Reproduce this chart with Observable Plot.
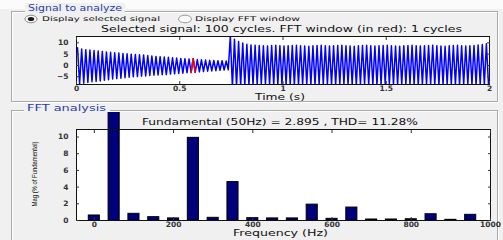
<!DOCTYPE html>
<html><head><meta charset="utf-8">
<script src="https://cdn.jsdelivr.net/npm/d3@7"></script>
<script src="https://cdn.jsdelivr.net/npm/@observablehq/plot@0.6"></script>
<style>
html,body{margin:0;padding:0;}
body{width:503px;height:240px;overflow:hidden;background:#f0f0f0;}
#root{position:relative;width:503px;height:240px;overflow:hidden;}
#deco,#labels{position:absolute;left:0;top:0;}
#labels{pointer-events:none;}
#top,#bottom{position:absolute;left:0;}
#top{top:0px;}
#bottom{top:112px;}
#labels text{font-family:"DejaVu Sans";font-weight:normal;fill:#111;dominant-baseline:central;}
</style></head><body><div id="root">
<svg id="deco" width="503" height="240">
  <rect x="0" y="0" width="503" height="9" fill="#fbfbfb"/>
  <rect x="12.5" y="12.5" width="486" height="90" fill="none" stroke="#ffffff"/>
  <rect x="11.5" y="11.5" width="486" height="90" fill="none" stroke="#a9a9a9"/>
  <rect x="12.5" y="111.5" width="486" height="200" fill="none" stroke="#ffffff"/>
  <rect x="11.5" y="110.5" width="486" height="200" fill="none" stroke="#a9a9a9"/>
  <rect x="25" y="3" width="100" height="10" fill="#f0f0f0"/>
  <rect x="24" y="103" width="86" height="10" fill="#f0f0f0"/>
  <ellipse cx="31" cy="19" rx="6" ry="3.8" fill="#fafafa" stroke="#8a8a8a"/>
  <ellipse cx="31" cy="19" rx="3.2" ry="2" fill="#1a1a1a"/>
  <ellipse cx="185" cy="19" rx="6.5" ry="3.8" fill="#fafafa" stroke="#9a9a9a"/>
</svg>
<div id="top"></div>
<div id="bottom"></div>
<svg id="labels" width="503" height="240">
  <text x="28" y="8" font-size="8" textLength="94" lengthAdjust="spacingAndGlyphs" style="fill:#2b3caa">Signal to analyze</text>
  <text x="42" y="19" font-size="6.5" textLength="118" lengthAdjust="spacingAndGlyphs">Display selected signal</text>
  <text x="195" y="19" font-size="6.5" textLength="105" lengthAdjust="spacingAndGlyphs">Display FFT window</text>
  <text x="101" y="29" font-size="8" textLength="361" lengthAdjust="spacingAndGlyphs">Selected signal: 100 cycles. FFT window (in red): 1 cycles</text>
  <text x="255" y="97" font-size="8" textLength="50" lengthAdjust="spacingAndGlyphs">Time (s)</text>
  <text x="27" y="108" font-size="8" textLength="79" lengthAdjust="spacingAndGlyphs" style="fill:#2b3caa">FFT analysis</text>
  <text x="142" y="122.5" font-size="8" textLength="276" lengthAdjust="spacingAndGlyphs">Fundamental (50Hz) = 2.895 , THD= 11.28%</text>
  <text x="233" y="233" font-size="8" textLength="95" lengthAdjust="spacingAndGlyphs">Frequency (Hz)</text>
  <text transform="translate(34.5,174) rotate(-90)" text-anchor="middle" font-size="7" textLength="65" lengthAdjust="spacingAndGlyphs" style="font-family:'Liberation Sans'">Mag (% of Fundamental)</text>
</svg>
</div>
<script>
// ---- Signal (per-cycle positive peaks and negative troughs, 50 Hz, 100 cycles) ----
const f0 = 50;
const peaks = [
  7.8, 7.3, 7.0, 6.8, 6.6, 6.4, 6.2, 6.0, 5.8, 5.6,
  5.5, 5.3, 5.2, 5.0, 4.9, 4.7, 4.6, 4.4, 4.2, 4.0,
  3.9, 3.7, 3.6, 3.4, 3.3, 3.1, 3.0, 2.9, 3.0, 2.6,
  2.5, 2.4, 2.3, 2.2, 2.1, 2.1, 2.0,
  13.0, 11.6, 10.6, 9.9, 9.4,
  9.1, 8.9, 8.8, 8.7, 8.6, 8.8, 8.9, 8.7, 8.6, 8.7,
  8.8, 8.9, 8.7, 8.6, 8.5, 8.7, 8.8, 8.9, 8.7, 8.6,
  8.7, 8.8, 8.9, 8.7, 8.6, 8.5, 8.7, 8.8, 8.9, 8.7,
  8.6, 8.7, 8.8, 8.9, 8.7, 8.6, 8.5, 8.7, 8.8, 8.9,
  8.7, 8.6, 8.7, 8.8, 8.9, 8.7, 8.6, 8.5, 8.7, 8.8,
  8.9, 8.7, 8.6, 8.7, 8.8, 9.0, 9.3, 9.6
];
const troughs = [
  -8.2, -7.8, -7.5, -7.2, -7.0, -6.8, -6.5, -6.3, -6.0, -5.8,
  -5.6, -5.4, -5.2, -5.0, -4.9, -4.7, -4.6, -4.4, -4.3, -4.2,
  -4.1, -4.0, -3.8, -3.7, -3.5, -3.4, -3.2, -3.1, -3.0, -2.8,
  -2.7, -2.5, -2.4, -2.3, -2.1, -2.0, -1.9,
  -9.5, -9.2, -9.0, -8.8, -8.6,
  -8.5, -8.4, -8.3, -8.4, -8.5, -8.6, -8.4, -8.3, -8.4, -8.5,
  -8.6, -8.4, -8.3, -8.4, -8.5, -8.6, -8.4, -8.3, -8.4, -8.5,
  -8.6, -8.4, -8.3, -8.4, -8.5, -8.6, -8.4, -8.3, -8.4, -8.5,
  -8.6, -8.4, -8.3, -8.4, -8.5, -8.6, -8.4, -8.3, -8.4, -8.5,
  -8.6, -8.4, -8.3, -8.4, -8.5, -8.6, -8.4, -8.3, -8.4, -8.5,
  -8.6, -8.4, -8.3, -8.4, -8.5, -8.6, -8.4, -8.3
];
const fftWindowCycle = 28;
const timeTicks = [0, 0.5, 1, 1.5, 2];
const timeTickLabels = ["0", "0.5", "1", "1.5", "2"];
const signalTicks = [-5, 0, 5, 10];

// ---- FFT spectrum ----
const freqs = [0, 50, 100, 150, 200, 250, 300, 350, 400, 450, 500, 550, 600, 650, 700, 750, 800, 850, 900, 950];
const mags  = [0.6, 100, 0.8, 0.4, 0.25, 9.9, 0.32, 4.6, 0.28, 0.25, 0.25, 1.9, 0.2, 1.55, 0.12, 0.12, 0.15, 0.75, 0.08, 0.68];
const freqTicks = [0, 200, 400, 600, 800, 1000];
const freqTickLabels = ["0", "200", "400", "600", "800", "1000"];
const magTicks = [0, 2, 4, 6, 8, 10];

const T = 1 / f0;
const pts = [];
peaks.forEach((p, k) => {
  pts.push({t: k * T + T / 4, v: p});
  pts.push({t: k * T + 3 * T / 4, v: troughs[k]});
});
const redPts = pts.slice(2 * (fftWindowCycle - 1) + 1, 2 * fftWindowCycle + 2);

const axisStyle = {background: "transparent", fontFamily: "DejaVu Sans", fontSize: "7.5px", fontWeight: "bold", color: "#333", overflow: "hidden"};

const topPlot = Plot.plot({
  width: 503, height: 104,
  marginTop: 36, marginBottom: 20, marginLeft: 76, marginRight: 14,
  style: axisStyle,
  x: {domain: [0, 2]},
  y: {domain: [-8.4, 12.8]},
  marks: [
    Plot.frame({fill: "white", stroke: "none"}),
    Plot.line(pts, {x: "t", y: "v", stroke: "#0000ff", strokeWidth: 1.5, clip: true}),
    Plot.line(redPts, {x: "t", y: "v", stroke: "#ff0000", strokeWidth: 1.6, clip: true}),
    Plot.frame({stroke: "#111"}),
    Plot.axisX(timeTicks, {anchor: "bottom", tickSize: -3, tickPadding: 4, tickFormat: (d) => timeTickLabels[timeTicks.indexOf(d)], label: null}),
    Plot.axisX(timeTicks, {anchor: "top", tickSize: -3, tickFormat: () => "", label: null}),
    Plot.axisY(signalTicks, {anchor: "left", tickSize: -3, tickPadding: 11, label: null}),
    Plot.axisY(signalTicks, {anchor: "right", tickSize: -3, tickFormat: () => "", label: null})
  ]
});
document.getElementById("top").append(topPlot);

const bars = freqs.map((f, i) => ({f, m: mags[i]}));
const bottomPlot = Plot.plot({
  width: 503, height: 128,
  marginTop: 17, marginBottom: 20, marginLeft: 76, marginRight: 13,
  style: axisStyle,
  x: {domain: [-45, 1000]},
  y: {domain: [0, 10.9]},
  marks: [
    Plot.frame({fill: "white", stroke: "none"}),
    Plot.rectY(bars, {x1: (d) => d.f - 14, x2: (d) => d.f + 14, y: "m", fill: "#00007c", stroke: "#000", strokeWidth: 1}),
    Plot.frame({stroke: "#111"}),
    Plot.axisX(freqTicks, {anchor: "bottom", tickSize: -3, tickPadding: 4.5, tickFormat: (d) => freqTickLabels[freqTicks.indexOf(d)], label: null}),
    Plot.axisX(freqTicks, {anchor: "top", tickSize: -3, tickFormat: () => "", label: null}),
    Plot.axisY(magTicks, {anchor: "left", tickSize: -3, tickPadding: 11, label: null}),
    Plot.axisY(magTicks, {anchor: "right", tickSize: -3, tickFormat: () => "", label: null})
  ]
});
document.getElementById("bottom").append(bottomPlot);
</script>
</body></html>
